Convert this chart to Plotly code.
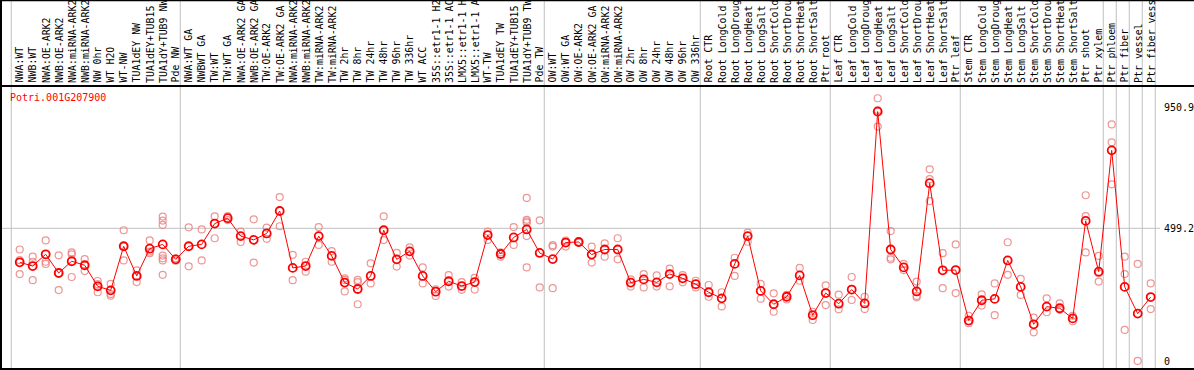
import plotly.graph_objects as go

categories = [
    "NWA:WT", "NWB:WT", "NWA:OE-ARK2", "NWB:OE-ARK2", "NWA:miRNA-ARK2", "NWB:miRNA-ARK2",
    "NW 0hr", "WT H2O", "WT-NW", "TUA1dEY NW", "TUA1dEY+TUB15", "TUA1dY+TUB9 NW", "Pde NW",
    "NWA:WT GA", "NWBWT GA", "TW:WT", "TW:WT GA", "NWA:OE-ARK2 GA", "NWB:OE-ARK2 GA",
    "TW:OE-ARK2", "TW:OE-ARK2 GA", "NWA:miRNA-ARK2", "NWB:miRNA-ARK2", "TW:miRNA-ARK2",
    "TW:miRNA-ARK2", "TW 2hr", "TW 8hr", "TW 24hr", "TW 48hr", "TW 96hr", "TW 336hr", "WT ACC",
    "35S::etr1-1 H2", "35S::etr1-1 AC", "LMX5::etr1-1 H", "LMX5::etr1-1 A", "WT-TW",
    "TUA1dEY TW", "TUA1dEY+TUB15", "TUA1dY+TUB9 TW", "Pde TW",
    "OW:WT", "OW:WT GA", "OW:OE-ARK2", "OW:OE-ARK2 GA", "OW:miRNA-ARK2", "OW:miRNA-ARK2",
    "OW 2hr", "OW 8hr", "OW 24hr", "OW 48hr", "OW 96hr", "OW 336hr",
    "Root CTR", "Root LongCold", "Root LongDroug", "Root LongHeat", "Root LongSalt",
    "Root ShortCold", "Root ShortDrou", "Root ShortHeat", "Root ShortSalt", "Ptr root",
    "Leaf CTR", "Leaf LongCold", "Leaf LongDroug", "Leaf LongHeat", "Leaf LongSalt",
    "Leaf ShortCold", "Leaf ShortDrou", "Leaf ShortHeat", "Leaf ShortSalt", "Ptr leaf",
    "Stem CTR", "Stem LongCold", "Stem LongDroug", "Stem LongHeat", "Stem LongSalt",
    "Stem ShortCold", "Stem ShortDrou", "Stem ShortHeat", "Stem ShortSalt", "Ptr shoot", "Ptr xylem",
    "Ptr phloem", "Ptr fiber", "Ptr vessel", "Ptr fiber vess",
]

mean_values = [
    372, 358, 402, 332, 376, 361, 282, 267, 432, 321, 423, 439, 383,
    432, 439, 517, 537, 470, 456, 480, 564, 351, 358, 470, 396, 296, 272, 321,
    492, 383, 413, 321, 262, 301, 283, 298, 474, 403, 465, 495, 407,
    384, 446, 448, 401, 420, 420, 296, 308, 297, 328, 312, 290,
    260, 237, 366, 470, 265, 215, 243, 323, 174, 257,
    217, 270, 218, 936, 420, 353, 263, 668, 342, 343,
    154, 230, 235, 379, 280, 140, 206, 200, 162, 527, 337,
    791, 280, 180, 242,
]

replicate_values = [
    [420, 380, 328], [393, 374, 305], [454, 366, 374], [398, 268, 332], [409, 402, 317],
    [384, 339, 361], [302, 260, 290], [291, 253, 247], [492, 379, 432], [342, 298, 321],
    [454, 406, 412], [543, 528, 512, 397, 387, 379, 325], [387, 378],
    [503, 357], [495, 379], [544, 462], [545, 530], [487, 448], [533, 371], [502, 460],
    [616, 507], [400, 305], [374, 337], [504, 437], [414, 374], [312, 263, 306],
    [306, 298, 215], [368, 293], [544, 455], [407, 356], [428, 397], [353, 293],
    [271, 246], [324, 281], [298, 269], [314, 270], [487, 455], [409, 393], [504, 437],
    [613, 531, 525, 520, 470, 353], [529, 278],
    [436, 431, 275], [453, 431], [449, 446], [431, 371], [443, 393], [462, 383],
    [308, 281], [328, 278], [323, 281], [348, 282], [324, 297], [303, 278],
    [287, 243], [260, 207], [389, 321], [483, 449], [291, 236], [256, 187], [250, 233],
    [351, 303], [187, 156], [286, 212],
    [251, 196], [317, 231], [243, 197], [986, 942, 880], [489, 389, 383], [366, 343],
    [300, 246, 241], [720, 683, 601], [406, 275], [439, 257],
    [172, 144], [252, 210], [293, 174], [447, 325], [310, 250], [165, 110], [237, 185],
    [218, 194], [172, 151], [623, 545, 409], [396, 331, 300],
    [888, 821, 664], [393, 328, 119], [366, 3], [293, 197],
]

group_starts = [0, 13, 41, 53, 63, 73, 84, 85, 86, 87, 88]
y_ticks = [950.9, 499.2, 0]
y_tick_labels = ["950.9", "499.2", "0"]
gene_name = "Potri.001G207900"

W, H = 1194, 370
FONT = "DejaVu Sans Mono"
idx = list(range(len(categories)))

rep_x, rep_y = [], []
for i, reps in enumerate(replicate_values):
    for v in reps:
        rep_x.append(i)
        rep_y.append(v)

fig = go.Figure()
fig.add_trace(go.Scatter(
    x=rep_x, y=rep_y, mode="markers",
    marker=dict(symbol="circle-open", size=7, color="rgba(235,130,130,0.85)",
                line=dict(width=1.2, color="rgba(235,130,130,0.85)")),
    hoverinfo="skip", showlegend=False))
fig.add_trace(go.Scatter(
    x=idx, y=mean_values, mode="lines+markers",
    line=dict(color="#ff0000", width=1),
    marker=dict(symbol="circle-open", size=8, color="#ff0000",
                line=dict(width=1.8, color="#ff0000")),
    showlegend=False))

shapes = []
for b in group_starts:
    shapes.append(dict(type="line", xref="x", yref="paper", x0=b - 0.65, x1=b - 0.65,
                       y0=0, y1=1, line=dict(color="#c0c0c0", width=1), layer="below"))
# horizontal reference line
shapes.append(dict(type="line", xref="paper", yref="y", x0=1 / W, x1=1160 / W,
                   y0=y_ticks[1], y1=y_ticks[1], line=dict(color="#c0c0c0", width=1), layer="below"))
# black frame lines
shapes.append(dict(type="line", xref="paper", yref="paper", x0=0, x1=1,
                   y0=(H - 86) / H, y1=(H - 86) / H, line=dict(color="black", width=2)))
shapes.append(dict(type="line", xref="paper", yref="paper", x0=0, x1=1,
                   y0=1 / H, y1=1 / H, line=dict(color="black", width=2)))
shapes.append(dict(type="line", xref="paper", yref="paper", x0=0, x1=1,
                   y0=1 - 0.5 / H, y1=1 - 0.5 / H, line=dict(color="black", width=1.5)))
shapes.append(dict(type="line", xref="paper", yref="paper", x0=1 / W, x1=1 / W,
                   y0=0, y1=1, line=dict(color="black", width=2)))

annotations = []
for i, lab in enumerate(categories):
    annotations.append(dict(x=i, xref="x", y=(H - 83.7) / H, yref="paper", text=lab,
                            textangle=-90, showarrow=False, xanchor="center", yanchor="bottom",
                            borderpad=0, font=dict(family=FONT, size=9.9, color="black")))
annotations.append(dict(x=9 / W, xref="paper", y=(H - 97) / H, yref="paper", text=gene_name,
                        showarrow=False, xanchor="left", yanchor="middle", borderpad=0,
                        font=dict(family=FONT, size=10, color="#ff0000")))
for v, t in zip(y_ticks, y_tick_labels):
    annotations.append(dict(x=1163 / W, xref="paper", y=v, yref="y", text=t, showarrow=False,
                            xanchor="left", yanchor="middle", borderpad=0,
                            font=dict(family=FONT, size=10, color="black")))

fig.update_layout(
    width=W, height=H, margin=dict(l=0, r=0, t=0, b=0),
    paper_bgcolor="white", plot_bgcolor="white",
    xaxis=dict(range=[-1.515, -1.515 + W / 13.0], visible=False, fixedrange=True),
    yaxis=dict(range=[-31.06, -31.06 + H / 0.2672], visible=False, fixedrange=True),
    shapes=shapes, annotations=annotations, showlegend=False,
)
fig.write_html("out.html", config={"displayModeBar": False},
               post_script="document.body.style.margin='0';document.body.style.overflow='hidden';")
